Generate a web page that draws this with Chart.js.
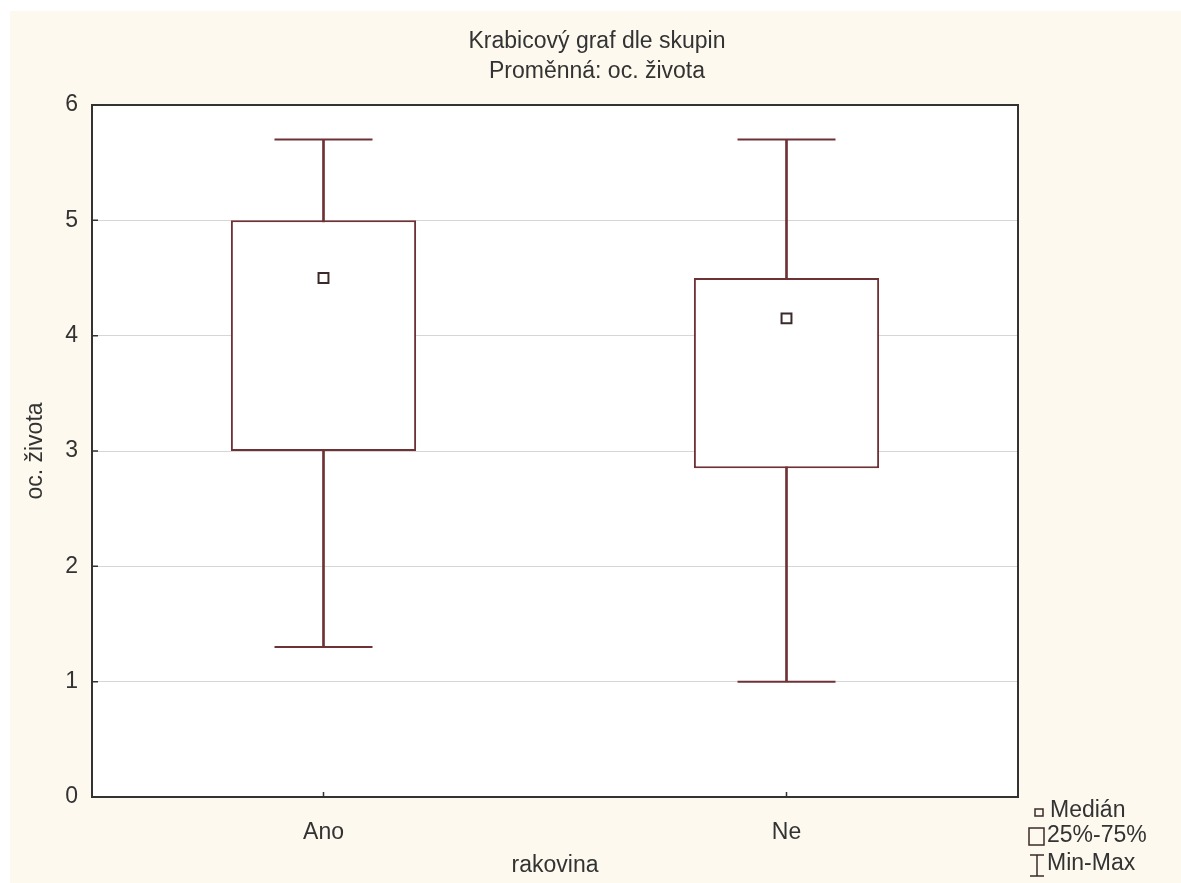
<!DOCTYPE html>
<html>
<head>
<meta charset="utf-8">
<script src="https://cdn.jsdelivr.net/npm/chart.js@4"></script>
<style>
  body { margin: 0; background: #fff; }
  #wrap { width: 1181px; height: 883px; }
</style>
</head>
<body>
<div id="wrap"><canvas id="c"></canvas></div>
<script>
// data
const categories = ['Ano', 'Ne'];
const mins = [1.3, 1.0];
const q1 = [3.0, 2.85];
const medians = [4.5, 4.15];
const q3 = [5.0, 4.5];
const maxs = [5.7, 5.7];
const yTicks = [0, 1, 2, 3, 4, 5, 6];
const titleLines = ['Krabicový graf dle skupin', 'Proměnná: oc. života'];
const legendLabels = ['Medián', '25%-75%', 'Min-Max'];

const boxColor = '#6e3236';
const textColor = '#333';
const fontFamily = '"Liberation Sans", Arial, sans-serif';
const fontSize = 23;

// background, frame, title and legend
const decor = {
    id: 'decor',
    beforeDraw(chart) {
        const ctx = chart.ctx;
        const a = chart.chartArea;
        ctx.save();
        ctx.fillStyle = '#fff';
        ctx.fillRect(0, 0, chart.width, chart.height);
        ctx.fillStyle = '#fdf9ef';
        ctx.fillRect(10, 11, chart.width - 10, chart.height - 11);
        ctx.fillStyle = '#fff';
        ctx.fillRect(a.left, a.top, a.right - a.left, a.bottom - a.top);
        ctx.restore();
    },
    afterDraw(chart) {
        const ctx = chart.ctx;
        const a = chart.chartArea;
        const xs = chart.scales.x, ys = chart.scales.y;
        ctx.save();

        // frame
        ctx.strokeStyle = '#333';
        ctx.lineWidth = 2;
        ctx.strokeRect(a.left, a.top, a.right - a.left, a.bottom - a.top);

        // inward tick marks
        ctx.lineWidth = 1.5;
        ctx.beginPath();
        yTicks.forEach(v => {
            const y = ys.getPixelForValue(v);
            ctx.moveTo(a.left, y);
            ctx.lineTo(a.left + 6, y);
        });
        categories.forEach((c, i) => {
            const x = xs.getPixelForValue(i);
            ctx.moveTo(x, a.bottom);
            ctx.lineTo(x, a.bottom - 5);
        });
        ctx.stroke();

        // title
        ctx.fillStyle = textColor;
        ctx.font = fontSize + 'px ' + fontFamily;
        ctx.textAlign = 'center';
        ctx.textBaseline = 'middle';
        ctx.fillText(titleLines[0], 597, 42);
        ctx.fillText(titleLines[1], 597, 72);

        // legend
        const lx = a.right + 10;
        const ly = a.bottom;
        ctx.strokeStyle = '#3a2a2a';
        ctx.lineWidth = 1.5;
        ctx.strokeRect(lx + 7, ly + 12, 8, 7);
        ctx.strokeRect(lx + 1, ly + 31, 15, 17);
        ctx.beginPath();
        ctx.moveTo(lx + 9, ly + 58);
        ctx.lineTo(lx + 9, ly + 79);
        ctx.moveTo(lx + 2, ly + 58);
        ctx.lineTo(lx + 16, ly + 58);
        ctx.moveTo(lx + 2, ly + 79);
        ctx.lineTo(lx + 16, ly + 79);
        ctx.stroke();
        ctx.textAlign = 'left';
        ctx.fillText(legendLabels[0], lx + 22, ly + 14);
        ctx.fillText(legendLabels[1], lx + 19, ly + 39);
        ctx.fillText(legendLabels[2], lx + 19, ly + 67);
        ctx.restore();
    }
};

const ctx = document.getElementById('c').getContext('2d');

const myChart = new Chart(ctx, {
    type: 'bar',
    data: {
        labels: categories,
        datasets: [
            {
                label: 'Min-Max',
                data: mins.map((v, i) => [v, maxs[i]]),
                backgroundColor: boxColor,
                barThickness: 2,
                grouped: false,
                order: 3
            },
            {
                label: '25%-75%',
                data: q1.map((v, i) => [v, q3[i]]),
                backgroundColor: '#fff',
                borderColor: boxColor,
                borderWidth: 2,
                borderSkipped: false,
                barPercentage: 0.4,
                categoryPercentage: 1,
                grouped: false,
                order: 2
            },
            {
                type: 'line',
                label: 'Min',
                data: mins,
                showLine: false,
                pointStyle: 'line',
                pointRadius: 49,
                pointBorderColor: boxColor,
                pointBorderWidth: 2,
                order: 1
            },
            {
                type: 'line',
                label: 'Max',
                data: maxs,
                showLine: false,
                pointStyle: 'line',
                pointRadius: 49,
                pointBorderColor: boxColor,
                pointBorderWidth: 2,
                order: 1
            },
            {
                type: 'line',
                label: 'Medián',
                data: medians,
                showLine: false,
                pointStyle: 'rect',
                pointRadius: 7,
                pointBackgroundColor: '#fff',
                pointBorderColor: '#3a2a2a',
                pointBorderWidth: 2,
                order: 0
            }
        ]
    },
    options: {
        responsive: true,
        maintainAspectRatio: false,
        animation: false,
        layout: {
            padding: { left: 10, right: 163, top: 105, bottom: 0 }
        },
        plugins: {
            legend: { display: false },
            tooltip: { enabled: false }
        },
        scales: {
            x: {
                type: 'category',
                offset: true,
                afterFit: s => { s.height = 86; },
                grid: { display: false, drawTicks: false },
                border: { display: false },
                ticks: {
                    padding: 22,
                    color: textColor,
                    font: { family: fontFamily, size: fontSize }
                },
                title: {
                    display: true,
                    text: 'rakovina',
                    color: textColor,
                    font: { family: fontFamily, size: fontSize },
                    padding: { top: 0, bottom: 4 }
                }
            },
            y: {
                min: 0,
                max: 6,
                afterFit: s => { s.width = 82; },
                afterBuildTicks: s => { s.ticks = yTicks.map(v => ({ value: v })); },
                grid: {
                    color: c => (c.tick && (c.tick.value === 0 || c.tick.value === 6)) ? 'rgba(0,0,0,0)' : '#d6d6d6',
                    lineWidth: 1,
                    drawTicks: false
                },
                border: { display: false },
                ticks: {
                    padding: 14,
                    color: textColor,
                    font: { family: fontFamily, size: fontSize }
                },
                title: {
                    display: true,
                    text: 'oc. života',
                    color: textColor,
                    font: { family: fontFamily, size: fontSize },
                    padding: { top: 12, bottom: 0 }
                }
            }
        }
    },
    plugins: [decor]
});
</script>
</body>
</html>
